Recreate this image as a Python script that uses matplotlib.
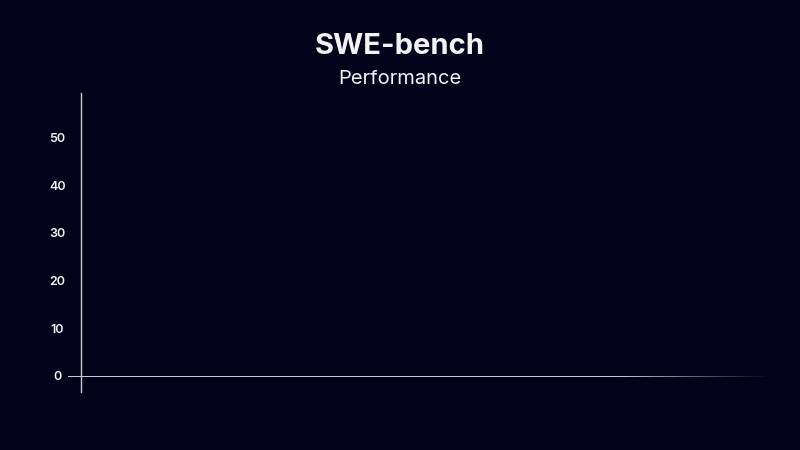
import matplotlib.pyplot as plt
import numpy as np
from matplotlib.collections import LineCollection
from matplotlib.colors import to_rgb

# chart content (frame before any bars are drawn)
title = "SWE-bench"
subtitle = "Performance"
y_ticks = [0, 10, 20, 30, 40, 50]
y_min, y_max = -3.4, 59.4

bg = "#03021a"
line_col = "#c9c9d2"
text_col = "#f2f2f5"

plt.rcParams['font.family'] = ['Inter', 'DejaVu Sans']

fig = plt.figure(figsize=(8, 4.5), dpi=100, facecolor=bg)
W, H = 800, 450
# axes: left spine at x=81px, from y=93px to y=392px, right edge at 770px
ax = fig.add_axes([81 / W, 1 - 392 / H, (770 - 81) / W, (392 - 93) / H])
ax.set_facecolor(bg)
ax.set_xlim(0, 1)
ax.set_ylim(y_min, y_max)

for s in ["top", "right", "bottom"]:
    ax.spines[s].set_visible(False)
ax.spines["left"].set_color(line_col)
ax.spines["left"].set_linewidth(1.0)

ax.set_xticks([])
ax.set_yticks(y_ticks)
ax.set_yticklabels([str(t) for t in y_ticks], ha="center", color=text_col,
                   fontsize=9, fontweight="semibold")
ax.tick_params(axis="y", length=0, pad=17)

# baseline at zero, starting a bit left of the axis, fading out on the right
x0 = -13 / (770 - 81)
xs = np.linspace(x0, 1, 120)
segs = [[(xs[i], 0), (xs[i + 1], 0)] for i in range(len(xs) - 1)]
mid = (xs[:-1] + xs[1:]) / 2
fade = np.clip((1 - mid) / 0.22, 0, 1)
c_bg, c_ln = np.array(to_rgb(bg)), np.array(to_rgb(line_col))
cols = [tuple(c_bg * (1 - a) + c_ln * a) for a in fade]
lc = LineCollection(segs, colors=cols, linewidths=0.72, clip_on=False,
                    capstyle="projecting", antialiased=False)
ax.add_collection(lc)

fig.text(0.5, 1 - 47 / H, title, ha="center", va="center", color=text_col,
         fontsize=21, fontweight="bold")
fig.text(0.5, 1 - 79 / H, subtitle, ha="center", va="center", color=text_col,
         fontsize=14.5)

fig.savefig("out.png", dpi=100, facecolor=bg)
